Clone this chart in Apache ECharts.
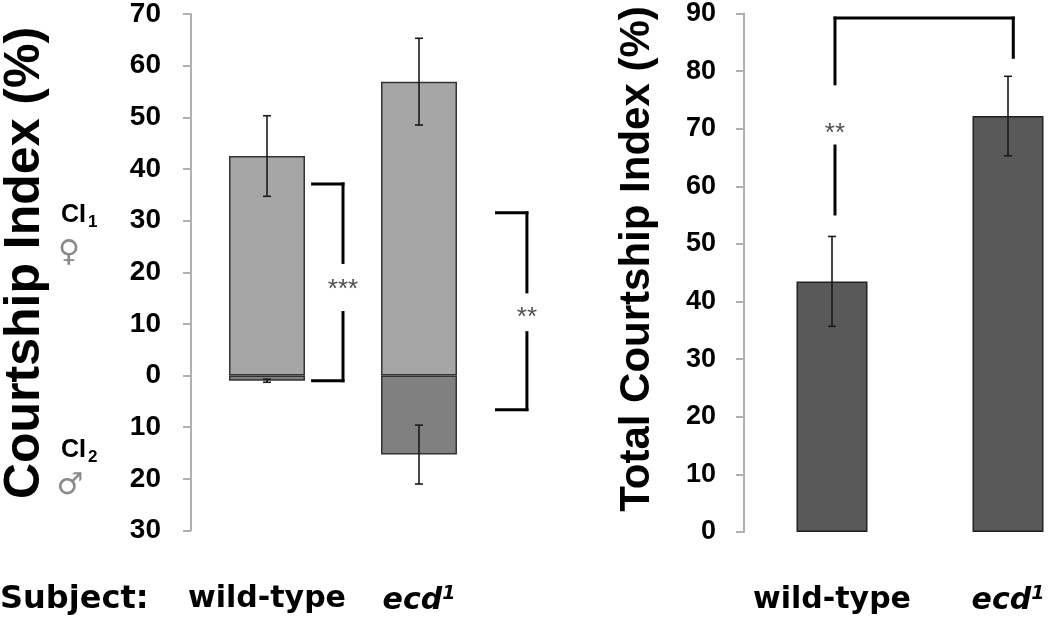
<!DOCTYPE html>
<html><head><meta charset="utf-8">
<script src="https://cdn.jsdelivr.net/npm/echarts@6/dist/echarts.min.js"></script>
<style>html,body{margin:0;padding:0;background:#fff}#c{width:1050px;height:623px}</style>
</head><body><div id="c"></div>
<script>
// ---- data ----
const categories = ['wild-type', 'ecd1'];
const ci1Mean = [42.5, 56.9];   // CI1 (toward female), plotted upward
const ci1Err  = [7.8, 8.4];
const ci2Mean = [1.0, 15.3];    // CI2 (toward male), plotted downward
const ci2Err  = [0.3, 5.7];
const totalMean = [43.5, 72.2];
const totalErr  = [7.8, 6.9];
const leftTickMin = -30, leftTickMax = 70, leftTickStep = 10;
const rightTickMin = 0, rightTickMax = 90, rightTickStep = 10;
// significance brackets, segments [x0, y0, x1, y1] in data units
// left panel x: 0..2 across the two category bands; right panel x: 0 = wild-type centre, 1 = ecd1 centre
const leftBracketSegs = [
  [0.80, 37.1, 1.00, 37.1], [1.00, 37.1, 1.00, 21.9], [1.00, 12.2, 1.00, -1.0], [1.00, -1.0, 0.80, -1.0],
  [2.01, 31.5, 2.21, 31.5], [2.21, 31.5, 2.21, 16.2], [2.21, 8.3, 2.21, -6.6], [2.21, -6.6, 2.01, -6.6]
];
const leftStars = [[1.00, 16.6, '***'], [2.21, 11.2, '**']];
const rightBracketSegs = [
  [0.017, 77.8, 0.017, 89.2], [0.017, 89.2, 1.030, 89.2], [1.030, 89.2, 1.030, 82.4], [0.017, 67.0, 0.017, 55.2]
];
const rightStars = [[0.017, 69.2, '**']];

// ---- helpers ----
const FONT = '"Liberation Sans", Arial, sans-serif';
const LBL = '"DejaVu Sans", sans-serif';
function errData(mean, err, sign) {
  return mean.map((m, i) => [i, sign * m - err[i], sign * m + err[i]]);
}
function errSeries(data, xi, yi) {
  return {
    type: 'custom', xAxisIndex: xi, yAxisIndex: yi, z: 5, clip: false, data: data,
    renderItem: function (params, api) {
      const x = api.value(0);
      const lo = api.coord([x, api.value(1)]);
      const hi = api.coord([x, api.value(2)]);
      const w = 4;
      const st = { stroke: '#1a1a1a', lineWidth: 1.6 };
      return { type: 'group', children: [
        { type: 'line', shape: { x1: lo[0], y1: lo[1], x2: hi[0], y2: hi[1] }, style: st },
        { type: 'line', shape: { x1: lo[0] - w, y1: lo[1], x2: lo[0] + w, y2: lo[1] }, style: st },
        { type: 'line', shape: { x1: hi[0] - w, y1: hi[1], x2: hi[0] + w, y2: hi[1] }, style: st }
      ]};
    }
  };
}
function bracketSeries(segs, xi, yi) {
  return {
    type: 'custom', xAxisIndex: xi, yAxisIndex: yi, z: 6, clip: false, data: segs,
    renderItem: function (params, api) {
      const a = api.coord([api.value(0), api.value(1)]);
      const b = api.coord([api.value(2), api.value(3)]);
      return { type: 'line', shape: { x1: a[0], y1: a[1], x2: b[0], y2: b[1] },
        style: { stroke: '#000', lineWidth: 3, lineCap: 'square' } };
    }
  };
}
function starSeries(stars, xi, yi) {
  return {
    type: 'scatter', xAxisIndex: xi, yAxisIndex: yi, clip: false, symbolSize: 1,
    itemStyle: { color: 'rgba(0,0,0,0)' },
    data: stars.map(s => ({ value: [s[0], s[1]], name: s[2] })),
    label: { show: true, position: 'inside', formatter: p => p.name,
      fontFamily: FONT, fontSize: 26, color: '#222' }
  };
}
const catLabel = {
  interval: 0, color: '#000',
  formatter: v => v === 'ecd1' ? '{i|ecd}{s|1}' : '{b|' + v + '}',
  rich: {
    b: { fontFamily: LBL, fontWeight: 'bold', fontSize: 30, color: '#000' },
    i: { fontFamily: LBL, fontWeight: 'bold', fontStyle: 'italic', fontSize: 30, color: '#000' },
    s: { fontFamily: LBL, fontWeight: 'bold', fontStyle: 'italic', fontSize: 19, color: '#000', verticalAlign: 'top', padding: [0, 0, 14, 0] }
  }
};
const yAxisStyle = (fs, margin) => ({
  axisLine: { show: true, onZero: false, lineStyle: { color: '#b0b0b0', width: 2 } },
  axisTick: { show: true, inside: false, length: 8, lineStyle: { color: '#b0b0b0', width: 2 } },
  splitLine: { show: false },
  axisLabel: { fontFamily: FONT, fontWeight: 'bold', fontSize: fs, color: '#000', margin: margin,
    formatter: v => String(Math.abs(v)) }
});

const chart = echarts.init(document.getElementById('c'), null, { renderer: 'canvas' });
chart.setOption({
  backgroundColor: '#fff',
  animation: false,
  grid: [
    { left: 191, top: 13.5, width: 304, height: 517 },
    { left: 832, top: 11, width: 176, height: 521 }
  ],
  xAxis: [
    { type: 'category', gridIndex: 0, data: categories, axisLine: { show: false }, axisTick: { show: false },
      axisLabel: Object.assign({ margin: 54 }, catLabel) },
    { type: 'value', gridIndex: 0, min: 0, max: 2, show: false },
    { type: 'category', gridIndex: 1, data: categories, boundaryGap: false, axisLine: { show: false }, axisTick: { show: false },
      axisLabel: Object.assign({ margin: 53 }, catLabel) },
    { type: 'value', gridIndex: 1, min: 0, max: 1, show: false }
  ],
  yAxis: [
    Object.assign({ type: 'value', gridIndex: 0, min: leftTickMin, max: leftTickMax, interval: leftTickStep }, yAxisStyle(28, 30)),
    Object.assign({ type: 'value', gridIndex: 1, offset: 88, min: rightTickMin, max: rightTickMax, interval: rightTickStep }, yAxisStyle(27, 28))
  ],
  series: [
    { type: 'bar', xAxisIndex: 0, yAxisIndex: 0, data: ci1Mean, barWidth: '50%', barGap: '-100%',
      itemStyle: { color: '#a6a6a6', borderColor: '#333', borderWidth: 1.5 } },
    { type: 'bar', xAxisIndex: 0, yAxisIndex: 0, data: ci2Mean.map(v => -v), barWidth: '50%', barGap: '-100%',
      itemStyle: { color: '#808080', borderColor: '#333', borderWidth: 1.5 } },
    errSeries(errData(ci1Mean, ci1Err, 1), 0, 0),
    errSeries(errData(ci2Mean, ci2Err, -1), 0, 0),
    bracketSeries(leftBracketSegs, 1, 0),
    starSeries(leftStars, 1, 0),
    { type: 'bar', xAxisIndex: 2, yAxisIndex: 1, data: totalMean, barWidth: 71, clip: false,
      itemStyle: { color: '#595959', borderColor: '#222', borderWidth: 1.5 } },
    errSeries(errData(totalMean, totalErr, 1), 2, 1),
    bracketSeries(rightBracketSegs, 3, 1),
    starSeries(rightStars, 3, 1)
  ],
  graphic: [
    { type: 'text', x: 25, y: 263, rotation: Math.PI / 2,
      style: { text: 'Courtship Index (%)', font: 'bold 50px ' + FONT, fill: '#000', align: 'center', verticalAlign: 'middle', textAlign: 'center', textVerticalAlign: 'middle' } },
    { type: 'text', x: 637, y: 259, rotation: Math.PI / 2,
      style: { text: 'Total Courtship Index (%)', font: 'bold 42px ' + FONT, fill: '#000', align: 'center', verticalAlign: 'middle', textAlign: 'center', textVerticalAlign: 'middle' } },
    { type: 'text', x: 61, y: 215,
      style: { text: 'CI', font: 'bold 25px ' + FONT, fill: '#000', verticalAlign: 'middle', textVerticalAlign: 'middle' } },
    { type: 'text', x: 88, y: 222,
      style: { text: '1', font: 'bold 17px ' + FONT, fill: '#000', verticalAlign: 'middle', textVerticalAlign: 'middle' } },
    { type: 'text', x: 69, y: 253,
      style: { text: '\u2640', font: '30px "DejaVu Sans"', fill: '#8a8a8a', align: 'center', verticalAlign: 'middle', textAlign: 'center', textVerticalAlign: 'middle' } },
    { type: 'text', x: 61, y: 450,
      style: { text: 'CI', font: 'bold 25px ' + FONT, fill: '#000', verticalAlign: 'middle', textVerticalAlign: 'middle' } },
    { type: 'text', x: 88, y: 457,
      style: { text: '2', font: 'bold 17px ' + FONT, fill: '#000', verticalAlign: 'middle', textVerticalAlign: 'middle' } },
    { type: 'text', x: 70, y: 486,
      style: { text: '\u2642', font: '30px "DejaVu Sans"', fill: '#8a8a8a', align: 'center', verticalAlign: 'middle', textAlign: 'center', textVerticalAlign: 'middle' } },
    { type: 'text', x: 0, y: 600,
      style: { text: 'Subject:', font: 'bold 32px ' + LBL, fill: '#000', verticalAlign: 'middle', textVerticalAlign: 'middle' } }
  ]
});
</script></body></html>
